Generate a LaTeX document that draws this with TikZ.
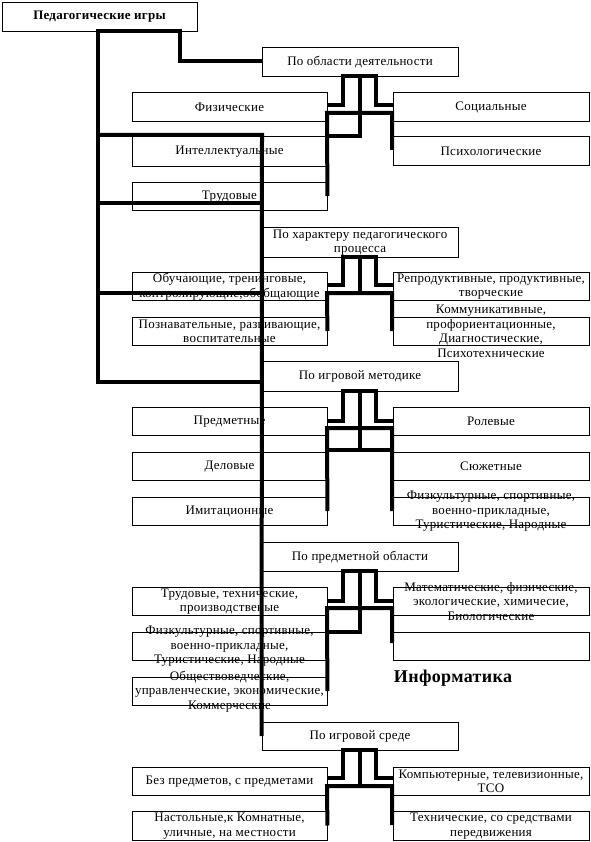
\documentclass[tikz,border=0pt]{standalone}
\usepackage{fontspec}
\setmainfont[LetterSpace=2]{Liberation Serif}
\usetikzlibrary{calc}
\newcommand{\mybox}[5]{%
  \node[box,minimum width=#3,minimum height=#4] (#1) at (#2) {};
  \node[txt] (#1-t) at ([yshift=-0.5pt]#1.center) {#5};}
\begin{document}
\begin{tikzpicture}[x=1pt,y=-1pt,
  box/.style={draw,line width=0.8pt,inner sep=0pt},
  txt/.style={align=center,inner sep=0pt,font=\fontsize{13}{14.5}\selectfont},
  thk/.style={line width=4pt,line join=miter}]
\useasboundingbox (0,0) rectangle (590,842);
% top
\node[box,minimum width=195pt,minimum height=29pt] (T) at (99.5,16.5) {};
\node[txt,font=\bfseries\fontsize{13}{14.5}\selectfont] (T-t) at (T.center) {Педагогические игры};
% group 1
\mybox{P1}{360,61.5}{196pt}{29pt}{По области деятельности}
\mybox{L1a}{229.5,106.5}{195pt}{29pt}{Физические}
\mybox{L1b}{229.5,151}{195pt}{30pt}{Интеллектуальные}
\mybox{L1c}{229.5,196}{195pt}{28pt}{Трудовые}
\mybox{R1a}{491,106.5}{196pt}{29pt}{Социальные}
\mybox{R1b}{491,150.5}{196pt}{29pt}{Психологические}
% group 2
\mybox{P2}{360,242}{196pt}{30pt}{По характеру педагогического\\процесса}
\mybox{L2a}{229.5,286}{195pt}{28pt}{Обучающие, тренинговые,\\контролирующие,обобщающие}
\mybox{L2b}{229.5,331}{195pt}{28pt}{Познавательные, развивающие,\\воспитательные}
\mybox{R2a}{491,286}{196pt}{28pt}{Репродуктивные, продуктивные,\\творческие}
\mybox{R2b}{491,331}{196pt}{28pt}{Коммуникативные,\\профориентационные,\\Диагностические,\\Психотехнические}
% group 3
\mybox{P3}{360,376}{196pt}{30pt}{По игровой методике}
\mybox{L3a}{229.5,421}{195pt}{28pt}{Предметные}
\mybox{L3b}{229.5,466}{195pt}{28pt}{Деловые}
\mybox{L3c}{229.5,511}{195pt}{28pt}{Имитационные}
\mybox{R3a}{491,421}{196pt}{28pt}{Ролевые}
\mybox{R3b}{491,466}{196pt}{28pt}{Сюжетные}
\mybox{R3c}{491,511}{196pt}{28pt}{Физкультурные, спортивные,\\военно-прикладные,\\Туристические, Народные}
% group 4
\mybox{P4}{360,556.5}{196pt}{29pt}{По предметной области}
\mybox{L4a}{229.5,601}{195pt}{28pt}{Трудовые, технические,\\производственые}
\mybox{L4b}{229.5,646}{195pt}{28pt}{Физкультурные, спортивные,\\военно-прикладные,\\Туристические, Народные}
\mybox{L4c}{229.5,691}{195pt}{28pt}{Обществоведческие,\\управленческие, экономические,\\Коммерческие}
\mybox{R4a}{491,601}{196pt}{28pt}{Математические, физические,\\экологические, химичесие,\\Биологические}
\node[box,minimum width=196pt,minimum height=28pt] (R4b) at (491,646) {};
\node[inner sep=0pt,font=\bfseries\fontsize{18}{20}\selectfont] (inf) at (453,678) {Информатика};
% group 5
\mybox{P5}{360,736}{196pt}{28pt}{По игровой среде}
\mybox{L5a}{229.5,781}{195pt}{28pt}{Без предметов, с предметами}
\mybox{L5b}{229.5,825.5}{195pt}{29pt}{Настольные,к Комнатные,\\уличные, на местности}
\mybox{R5a}{491,781}{196pt}{28pt}{Компьютерные, телевизионные,\\ТСО}
\mybox{R5b}{491,825.5}{196pt}{29pt}{Технические, со средствами\\передвижения}
% spine
\coordinate (spTop) at (98,31);
\coordinate (spBot) at (98,382);
\coordinate (busTop) at (262,135);
\draw[thk] (P1.west) -| (180,31) -- (spTop) -- (spBot) -- (spBot -| busTop);
\draw[thk] (spTop |- busTop) -- (busTop) -- (P5.west);
\draw[thk] (98,203) -- (262,203);
\draw[thk] (98,293) -- (262,293);
% forks
\foreach \g/\ya in {1/105,2/285,3/421,4/601,5/778}{
  \draw[thk] (327,\ya) -| ([xshift=-17pt]P\g.south) -- ([xshift=16pt]P\g.south) |- (393,\ya);
}
% group 1
\draw[thk] (P1.south) |- (L1b.north east);
\draw[thk] (L1c.east) -- (327,113) -- (392,113) -- (392,150);
% group 2
\draw[thk] (P2.south) -- (360,293);
\draw[thk] (L2b.east) -- (327,293) -- (392,293) -- (392,331);
% group 3
\draw[thk] (P3.south) -- (360,450);
\draw[thk] (327,450) -- (392,450);
\draw[thk] (L3c.east) -- (327,428) -- (392,428) -- (392,511);
% group 4
\draw[thk] (P4.south) |- (L4b.north east);
\draw[thk] (L4c.east) -- (327,608) -- (392,608) -- (392,643);
% group 5
\draw[thk] (P5.south) -- (360,786);
\draw[thk] (L5b.east) -- (327,786) -- (392,786) -- (392,825);
\end{tikzpicture}
\end{document}
